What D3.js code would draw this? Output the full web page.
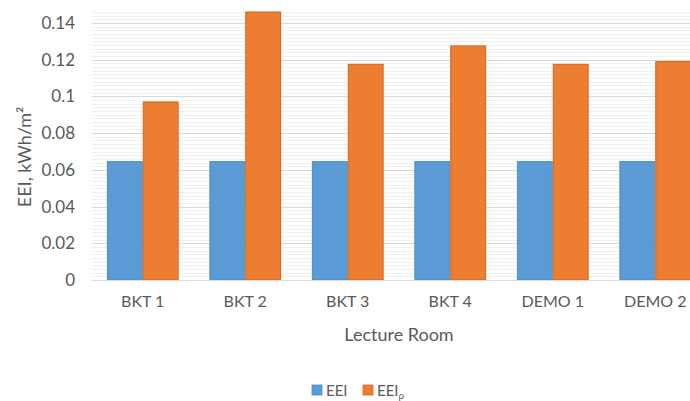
<!DOCTYPE html>
<html>
<head>
<meta charset="utf-8">
<script src="https://cdn.jsdelivr.net/npm/d3@7"></script>
<style>
  html, body { margin: 0; padding: 0; background: #fff; }
  svg { display: block; font-family: Lato, "Open Sans", sans-serif; }
</style>
</head>
<body>
<svg id="chart" width="690" height="401"></svg>
<script>
// Lecture rooms and energy efficiency indices
const rooms = ["BKT 1", "BKT 2", "BKT 3", "BKT 4", "DEMO 1", "DEMO 2"];
const eei = [0.0645, 0.0645, 0.0645, 0.0645, 0.0645, 0.0645];
const eeiP = [0.097, 0.146, 0.1175, 0.1275, 0.1175, 0.119];
const yTicks = [0, 0.02, 0.04, 0.06, 0.08, 0.1, 0.12, 0.14];
const seriesNames = ["EEI", "EEIp"];

const colors = { EEI: "#5b9bd5", EEIp: "#ed7d31" };
const strokes = { EEI: "#4f8cc4", EEIp: "#d0671f" };
const textColor = "#595959";

const svg = d3.select("#chart");

const plot = { left: 91.5, right: 706.5, top: 11.5, bottom: 280 };

const y = d3.scaleLinear().domain([0, 0.14]).range([plot.bottom, 23]);
const x0 = d3.scaleBand().domain(rooms).range([plot.left, plot.right])
  .paddingInner(0.3).paddingOuter(0.15);
const x1 = d3.scaleBand().domain(seriesNames).range([0, x0.bandwidth()]);

// minor gridlines every 0.002
const minor = d3.range(1, 74).map(i => i * 0.002).filter(v => Math.abs((v / 0.02) - Math.round(v / 0.02)) > 1e-6);
svg.append("g").selectAll("line").data(minor).join("line")
  .attr("x1", plot.left).attr("x2", plot.right)
  .attr("y1", d => Math.round(y(d)) + 0.5).attr("y2", d => Math.round(y(d)) + 0.5)
  .attr("stroke", "#f0f0f0").attr("stroke-width", 1);

// major gridlines
svg.append("g").selectAll("line").data(yTicks.slice(1)).join("line")
  .attr("x1", plot.left).attr("x2", plot.right)
  .attr("y1", d => Math.round(y(d)) + 0.5).attr("y2", d => Math.round(y(d)) + 0.5)
  .attr("stroke", "#d9d9d9").attr("stroke-width", 1);

// bars
const rows = rooms.map((r, i) => ({ room: r, values: [
  { key: "EEI", value: eei[i] }, { key: "EEIp", value: eeiP[i] }] }));

svg.append("g").selectAll("g").data(rows).join("g")
  .attr("transform", d => `translate(${x0(d.room)},0)`)
  .selectAll("rect").data(d => d.values).join("rect")
  .attr("x", d => x1(d.key) + 0.5)
  .attr("width", x1.bandwidth() - 1)
  .attr("y", d => y(d.value))
  .attr("height", d => y(0) - y(d.value))
  .attr("fill", d => colors[d.key])
  .attr("stroke", d => strokes[d.key])
  .attr("stroke-width", 1);

// zero baseline
svg.append("line")
  .attr("x1", plot.left).attr("x2", plot.right)
  .attr("y1", Math.round(y(0)) + 0.5).attr("y2", Math.round(y(0)) + 0.5)
  .attr("stroke", "#d9d9d9").attr("stroke-width", 1);

// y axis labels
const yAxis = d3.axisLeft(y).tickValues(yTicks).tickSize(0).tickPadding(0)
  .tickFormat(d => d3.format("")(+d.toFixed(2)));
const yg = svg.append("g").attr("transform", `translate(75,0)`).call(yAxis);
yg.select(".domain").remove();
yg.selectAll("text").attr("fill", textColor).style("font-size", "17px")
  .style("font-family", "Lato, sans-serif");

// x axis labels
const xAxis = d3.axisBottom(x0).tickSize(0).tickPadding(0);
const xg = svg.append("g").attr("transform", `translate(0,296)`).call(xAxis);
xg.select(".domain").remove();
xg.selectAll("text").attr("fill", textColor).style("font-size", "16px")
  .style("font-family", "Lato, sans-serif")
  .attr("dy", "0.71em");
// shift so label centers sit on group centers
xg.selectAll(".tick").attr("transform", d => `translate(${x0(d) + x0.bandwidth() / 2},0)`);

// axis titles
svg.append("text")
  .attr("x", (plot.left + plot.right) / 2).attr("y", 341)
  .attr("text-anchor", "middle").attr("fill", textColor)
  .style("font-size", "18px").text("Lecture Room");

svg.append("text")
  .attr("transform", "translate(31,157) rotate(-90)")
  .attr("text-anchor", "middle").attr("fill", textColor)
  .style("font-size", "18px").text("EEI, kWh/m²");

// legend
const legend = svg.append("g");
const items = [
  { key: "EEI", x: 312, label: "EEI", sub: null },
  { key: "EEIp", x: 363, label: "EEI", sub: "ρ" }
];
items.forEach(it => {
  legend.append("rect")
    .attr("x", it.x).attr("y", 385).attr("width", 10).attr("height", 10)
    .attr("fill", colors[it.key]).attr("stroke", strokes[it.key]).attr("stroke-width", 0.8);
  const t = legend.append("text")
    .attr("x", it.x + 14).attr("y", 396)
    .attr("fill", textColor).style("font-size", "15px");
  t.append("tspan").text(it.label);
  if (it.sub) t.append("tspan").attr("dy", 3).style("font-size", "10px").text(it.sub);
});
</script>
</body>
</html>
